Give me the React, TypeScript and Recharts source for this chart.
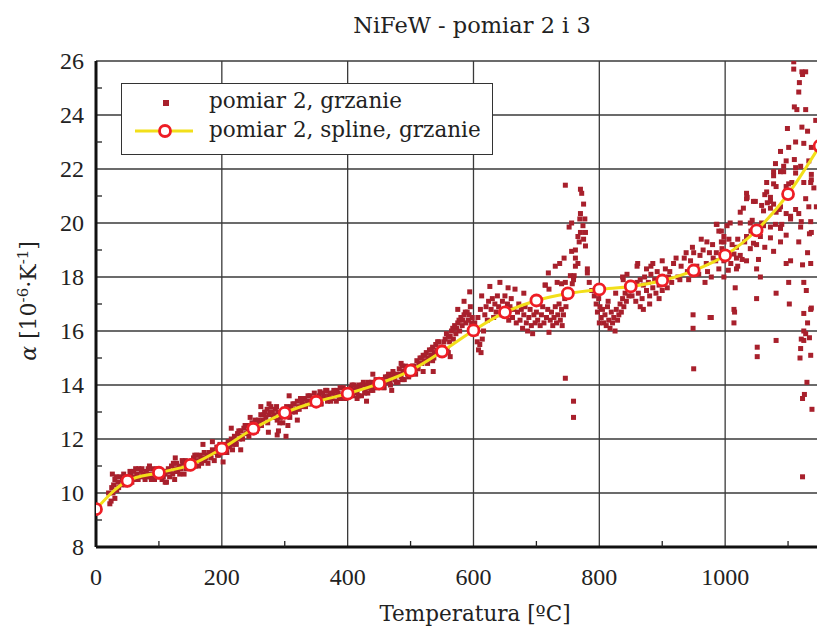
import React from "react";
import {
  ScatterChart,
  Scatter,
  XAxis,
  YAxis,
  CartesianGrid,
} from "recharts";

// pomiar 2, grzanie: [temperatura °C, alfa 1e-6/K]
const pomiar2Grzanie: [number, number][] = [
  [20, 10.0], [22, 9.6], [24, 9.7], [25, 10.2], [26, 10.7], [28, 10.3], [30, 9.8], [30, 10.5], [33, 10.1], [35, 10.4], [38, 10.6], [40, 10.3], [42, 10.5], [45, 10.4], [48, 10.6],
  [27, 10.0], [32, 10.6], [36, 10.2], [44, 10.7], [47, 10.3], [54, 10.8], [57, 10.4], [63, 10.9], [67, 10.5], [73, 10.9], [77, 10.6], [83, 10.9], [87, 10.6], [93, 10.5], [97, 10.9],
  [52, 10.5], [55, 10.7], [58, 10.6], [60, 10.8], [62, 10.5], [65, 10.7], [68, 10.9], [70, 10.6], [72, 10.8], [75, 10.7], [78, 10.5], [80, 10.8], [82, 10.6], [85, 10.7], [88, 10.5], [90, 10.9], [92, 10.7], [95, 10.6], [98, 10.8], [85, 11.0],
  [102, 10.6], [105, 10.5], [108, 10.8], [110, 10.7], [112, 10.4], [115, 10.9], [118, 10.8], [120, 11.0], [122, 10.7], [125, 10.9], [126, 11.3], [128, 11.1], [130, 10.8], [132, 11.0], [135, 10.9], [138, 11.1], [140, 10.7], [142, 11.2], [145, 11.0], [148, 10.9], [110, 10.4], [125, 10.5],
  [104, 10.8], [107, 10.6], [113, 10.8], [117, 10.6], [123, 11.1], [127, 10.8], [133, 10.7], [137, 11.2], [143, 10.9], [147, 11.1], [153, 11.2], [157, 11.4], [163, 11.0], [167, 11.3], [173, 11.2], [177, 11.4], [183, 11.3], [187, 11.5], [193, 11.4], [197, 11.8],
  [152, 11.1], [155, 11.3], [158, 11.0], [160, 11.4], [162, 11.2], [165, 11.4], [168, 11.1], [170, 11.3], [170, 11.8], [172, 11.5], [175, 11.3], [178, 11.1], [180, 11.5], [182, 11.4], [185, 11.6], [188, 11.2], [190, 11.5], [192, 11.7], [195, 11.4], [198, 11.6], [185, 11.9],
  [202, 11.6], [202, 11.15], [205, 11.8], [208, 11.5], [210, 11.9], [212, 11.7], [215, 12.0], [218, 11.8], [220, 12.1], [222, 11.9], [225, 12.2], [228, 12.0], [230, 12.3], [232, 12.1], [235, 12.4], [238, 12.2], [240, 12.5], [242, 12.3], [245, 12.8], [245, 12.4], [248, 12.6], [230, 11.6], [215, 12.4],
  [204, 11.5], [207, 11.7], [213, 11.9], [217, 11.6], [223, 11.8], [227, 12.3], [233, 12.0], [237, 12.5], [243, 12.1], [247, 12.3], [253, 12.7], [257, 12.4], [263, 12.5], [267, 12.9], [273, 12.6], [277, 13.0], [283, 12.9], [287, 13.2], [293, 12.8], [297, 12.6],
  [252, 12.5], [255, 12.3], [258, 12.7], [260, 12.6], [262, 12.9], [265, 12.7], [268, 13.0], [270, 12.8], [272, 13.1], [274, 12.25], [275, 12.9], [278, 13.2], [280, 13.0], [282, 12.8], [285, 13.1], [288, 12.7], [288, 12.15], [290, 13.0], [292, 12.6], [295, 12.9], [298, 13.1], [290, 12.3], [262, 13.2], [275, 13.3],
  [302, 12.9], [302, 12.1], [305, 13.1], [307, 13.6], [308, 12.8], [310, 13.2], [312, 13.0], [315, 13.3], [318, 13.1], [320, 13.4], [322, 13.2], [325, 13.5], [328, 13.3], [330, 13.2], [332, 13.5], [335, 13.4], [338, 13.3], [340, 13.6], [342, 13.4], [345, 13.5], [348, 13.3], [320, 12.7], [305, 12.5],
  [303, 13.2], [307, 12.9], [313, 13.3], [317, 13.0], [323, 13.1], [327, 13.4], [333, 13.2], [337, 13.6], [343, 13.3], [347, 13.7], [353, 13.5], [357, 13.3], [363, 13.6], [367, 13.8], [373, 13.4], [377, 13.7], [383, 13.8], [387, 13.5], [393, 13.9], [397, 13.5],
  [352, 13.4], [355, 13.6], [356, 13.75], [358, 13.3], [360, 13.7], [362, 13.5], [365, 13.8], [368, 13.4], [370, 13.6], [372, 13.7], [375, 13.5], [378, 13.8], [380, 13.6], [382, 13.4], [385, 13.7], [388, 13.9], [390, 13.5], [392, 13.6], [395, 13.8], [398, 13.7],
  [402, 13.7], [405, 13.9], [408, 13.6], [410, 14.0], [412, 13.8], [415, 13.7], [418, 14.0], [420, 13.9], [422, 13.6], [425, 14.1], [428, 13.8], [430, 14.0], [432, 13.7], [435, 13.9], [438, 14.1], [440, 13.8], [442, 14.0], [445, 14.2], [448, 13.9], [430, 13.4], [415, 13.5], [440, 14.4],
  [403, 13.8], [407, 14.0], [413, 13.9], [417, 13.6], [423, 14.0], [427, 13.7], [433, 14.1], [437, 13.8], [443, 13.9], [447, 14.1], [453, 14.2], [457, 13.9], [463, 14.3], [467, 14.1], [473, 14.4], [477, 14.1], [483, 14.4], [487, 14.2], [493, 14.5], [497, 14.3],
  [452, 14.0], [455, 14.2], [458, 13.9], [460, 14.3], [462, 14.1], [465, 14.4], [468, 14.0], [470, 14.3], [472, 14.5], [475, 14.2], [478, 14.4], [480, 14.1], [482, 14.6], [485, 14.3], [487, 14.7], [488, 14.5], [490, 14.2], [492, 14.7], [495, 14.4], [498, 14.6], [470, 13.8], [485, 14.8],
  [502, 14.5], [505, 14.7], [508, 14.4], [510, 14.9], [512, 14.6], [515, 15.0], [518, 14.8], [520, 15.1], [522, 14.9], [525, 15.2], [528, 15.0], [530, 15.3], [532, 15.1], [535, 15.4], [536, 14.5], [538, 15.2], [540, 15.5], [542, 15.3], [545, 15.6], [548, 15.4], [520, 14.5], [535, 14.9],
  [503, 14.7], [507, 14.5], [513, 14.8], [517, 15.0], [523, 15.1], [527, 14.8], [533, 15.3], [537, 15.0], [543, 15.6], [547, 15.2], [553, 15.6], [557, 15.9], [563, 15.8], [567, 16.1], [573, 16.1], [577, 16.4], [583, 16.4], [587, 16.7], [593, 16.6], [597, 16.3],
  [552, 15.4], [555, 15.7], [558, 15.3], [560, 15.8], [562, 15.6], [563, 15.05], [565, 16.0], [568, 15.7], [570, 16.2], [572, 15.9], [575, 16.3], [578, 16.0], [580, 16.5], [582, 16.2], [585, 16.6], [588, 16.3], [590, 16.7], [592, 16.4], [595, 16.9], [598, 16.5], [585, 17.1], [575, 16.8], [560, 15.2], [596, 16.1], [599, 15.9], [594, 17.45],
  [602, 16.3], [604, 15.9], [606, 15.6], [608, 15.3], [610, 15.5], [612, 15.2], [614, 15.7], [616, 16.0], [607, 16.5], [611, 16.8], [613, 17.3], [618, 16.6], [620, 16.9], [622, 16.4], [624, 17.1], [626, 17.65], [628, 16.8], [630, 17.2], [632, 16.5], [634, 17.0], [636, 16.7], [638, 17.3], [640, 16.9], [642, 17.8], [644, 16.6], [646, 17.1], [648, 16.8],
  [650, 17.3], [652, 16.6], [654, 17.0], [655, 17.6], [656, 16.4], [658, 16.9], [660, 17.2], [662, 16.5], [664, 16.8], [666, 17.55], [668, 16.3], [670, 16.7], [672, 17.0], [674, 16.4], [676, 16.8], [678, 16.1], [680, 16.6], [680, 17.4], [682, 16.9], [684, 16.3], [686, 16.0], [688, 16.5], [690, 16.8], [692, 16.2], [694, 15.9], [696, 16.6], [698, 16.3],
  [700, 16.7], [702, 16.4], [704, 17.0], [706, 16.2], [708, 16.6], [710, 16.9], [712, 16.3], [714, 17.7], [716, 16.5], [718, 16.8], [720, 15.95], [722, 16.4], [724, 16.7], [726, 16.2], [728, 16.5], [730, 16.9], [732, 16.3], [734, 16.6], [736, 17.0], [738, 16.4], [740, 16.8], [741, 16.2], [743, 16.6], [745, 17.2], [747, 16.9], [749, 17.3], [751, 17.5],
  [746, 21.4], [770, 21.25], [772, 21.1], [775, 20.7], [770, 20.35], [769, 20.15], [777, 20.15], [756, 20.0], [752, 19.85], [774, 19.9], [770, 19.65], [778, 19.65], [766, 19.5], [775, 19.4], [768, 19.3], [778, 19.15], [762, 19.0], [756, 18.95], [762, 18.7], [744, 18.7], [766, 18.5], [730, 18.4], [737, 18.5], [762, 18.4], [781, 18.3], [781, 18.15], [719, 18.15], [754, 18.05], [760, 18.05], [740, 17.75], [733, 17.8], [746, 17.8], [757, 17.75], [714, 17.7], [720, 17.55], [759, 17.9],
  [746, 14.25], [759, 13.4], [759, 12.8],
  [784, 17.8], [788, 17.5], [792, 17.3], [795, 17.0], [797, 16.7], [799, 17.2], [801, 16.9], [803, 16.5], [805, 16.8], [807, 16.3], [809, 16.6], [811, 16.2], [813, 16.9], [815, 16.4], [817, 16.1], [819, 16.7], [821, 16.3], [823, 16.5], [825, 16.0], [827, 16.8], [829, 16.4], [831, 16.6], [833, 17.0], [835, 16.7], [837, 17.2], [839, 16.9], [841, 17.4], [843, 17.1], [845, 17.6], [847, 17.3], [849, 17.8], [838, 17.9], [837, 18.0], [844, 18.1], [826, 17.4], [814, 17.1], [800, 16.3],
  [852, 17.3], [855, 17.6], [858, 17.1], [860, 17.8], [861, 18.5], [862, 17.4], [865, 17.9], [868, 17.2], [870, 17.7], [872, 18.0], [875, 17.5], [878, 17.8], [880, 17.3], [882, 18.1], [882, 18.4], [885, 17.6], [888, 17.9], [890, 17.4], [892, 18.2], [895, 17.7], [898, 18.0], [900, 17.5], [902, 17.9], [905, 18.3], [908, 17.6], [910, 18.0], [865, 16.9], [880, 17.0], [895, 17.2], [875, 18.3], [860, 18.4], [870, 16.8], [885, 18.5], [900, 18.6],
  [912, 18.2], [918, 18.5], [925, 18.0], [930, 18.4], [935, 18.7], [940, 18.2], [945, 18.6], [950, 18.9], [955, 18.4], [960, 18.8], [965, 19.0], [970, 18.5], [975, 18.9], [980, 19.2], [985, 18.6], [915, 17.8], [928, 17.9], [942, 17.9], [958, 18.1], [972, 18.2], [948, 19.1], [962, 19.4], [938, 18.9], [922, 18.7], [968, 17.8], [978, 18.0],
  [986, 19.95], [990, 19.7], [998, 19.5], [1006, 19.4], [994, 19.3], [1011, 19.2], [995, 19.05], [1003, 18.9], [1014, 18.85], [986, 18.9], [981, 18.7], [1018, 18.7], [998, 18.6], [1009, 18.5], [1024, 18.8], [990, 18.3], [1005, 18.25], [1018, 18.3], [998, 18.0],
  [1008, 20.0], [987, 19.95], [1003, 19.9], [994, 19.7], [971, 19.3], [998, 19.3], [1020, 19.4], [1034, 19.5], [1018, 19.1], [1040, 19.05], [1050, 19.2], [1063, 19.1], [1088, 19.3], [1077, 18.95],
  [1034, 18.6], [1050, 18.3], [1020, 18.4], [1027, 18.65], [1053, 18.65], [1056, 18.0],
  [1024, 20.4], [1024, 20.0], [1029, 20.55], [1031, 19.3], [1034, 21.1], [1034, 20.9], [1035, 20.95], [1040, 20.0], [1041, 19.7], [1043, 20.1], [1045, 20.8], [1045, 19.25], [1048, 20.8], [1056, 19.5], [1058, 20.65], [1058, 20.0], [1061, 20.45], [1061, 19.9], [1063, 21.05],
  [1066, 21.5], [1066, 21.15], [1067, 20.75], [1072, 20.95], [1072, 20.8], [1072, 20.55], [1072, 19.85], [1072, 19.45], [1077, 21.9], [1077, 21.75], [1077, 21.45], [1077, 20.7], [1080, 22.2], [1080, 19.95], [1081, 21.35], [1081, 20.4], [1086, 20.5], [1088, 22.65], [1088, 21.9], [1088, 20.6], [1088, 19.85], [1088, 19.8], [1090, 19.95],
  [1093, 22.1], [1093, 21.9], [1097, 22.3], [1097, 21.35], [1097, 21.0], [1097, 20.35], [1097, 19.55], [1097, 18.5], [1099, 23.5], [1101, 22.8], [1101, 21.45], [1101, 17.8], [1104, 20.25], [1104, 20.15], [1104, 18.6], [1106, 21.5],
  [1109, 25.97], [1109, 25.7], [1110, 24.3], [1110, 22.35], [1112, 23.0], [1112, 22.05], [1112, 21.85], [1112, 20.5], [1114, 24.2], [1117, 24.85], [1117, 20.35], [1117, 19.3], [1118, 25.2], [1120, 22.1], [1120, 19.85], [1121, 20.05], [1122, 25.6], [1122, 23.55], [1123, 25.5], [1123, 18.45], [1125, 22.95], [1125, 21.5], [1125, 17.8],
  [1128, 25.6], [1128, 24.2], [1128, 20.9], [1131, 23.4], [1131, 18.9], [1133, 22.3], [1133, 20.6], [1134, 19.6], [1136, 21.5], [1136, 20.05], [1136, 18.5], [1137, 22.8], [1137, 21.8], [1137, 21.6], [1137, 19.65], [1141, 21.3], [1144, 23.8], [1145, 20.6],
  [949, 16.6], [949, 16.1], [950, 14.6], [976, 16.5], [978, 16.5], [1014, 16.3], [1014, 16.8], [1015, 16.7], [1016, 17.6], [1050, 17.2], [1051, 15.4], [1051, 15.05], [1081, 15.65], [1081, 17.4], [1102, 17.0], [1120, 15.35], [1119, 15.0], [1125, 16.0], [1128, 15.9], [1131, 16.3], [1134, 15.75], [1121, 15.7], [1125, 15.65], [1129, 17.5], [1136, 16.8], [1137, 16.85], [1125, 16.65], [1136, 15.1], [1130, 14.1], [1126, 13.65], [1123, 13.5], [1138, 13.1], [1123, 10.6],
];

// pomiar 2, spline, grzanie
const splineTemps = [0, 50, 100, 150, 200, 250, 300, 350, 400, 450, 500, 550, 600, 650, 700, 750, 800, 850, 900, 950, 1000, 1050, 1100, 1150];
const splineAlpha = [9.4, 10.45, 10.75, 11.04, 11.64, 12.38, 12.97, 13.38, 13.68, 14.05, 14.53, 15.24, 16.02, 16.69, 17.13, 17.39, 17.54, 17.65, 17.87, 18.24, 18.8, 19.73, 21.07, 22.85];

const xTicks = [0, 100, 200, 300, 400, 500, 600, 700, 800, 900, 1000, 1100];
const xGrid = [200, 400, 600, 800, 1000];
const yTicks = [8, 9, 10, 11, 12, 13, 14, 15, 16, 17, 18, 19, 20, 21, 22, 23, 24, 25, 26];
const yGrid = [10, 12, 14, 16, 18, 20, 22, 24, 26];

const pointsData = pomiar2Grzanie.map(([T, a]) => ({ T, a }));
const splineData = splineTemps.map((T, i) => ({ T, a: splineAlpha[i] }));

const TEXT_FONT = "'DejaVu Serif', serif";
const NUM_FONT = "'Liberation Serif', serif";
const DOT = "#a8202c";
const YELLOW = "#f2df1a";
const RED = "#ee1d25";

const XTick = (props: any) => {
  const { x, y, payload } = props;
  const major = payload.value % 200 === 0;
  return (
    <g>
      {!major && <line x1={x} y1={y} x2={x} y2={y - 6} stroke="#222" strokeWidth={1.3} />}
      {major && (
        <text x={x} y={y + 38} textAnchor="middle" fontFamily={NUM_FONT} fontSize={24} fill="#222">
          {payload.value}
        </text>
      )}
    </g>
  );
};

const YTick = (props: any) => {
  const { x, y, payload } = props;
  const major = payload.value % 2 === 0;
  return (
    <g>
      {!major && <line x1={x} y1={y} x2={x + 6} y2={y} stroke="#222" strokeWidth={1.3} />}
      {major && (
        <text x={x - 12} y={y + 8} textAnchor="end" fontFamily={NUM_FONT} fontSize={24} fill="#222">
          {payload.value}
        </text>
      )}
    </g>
  );
};

const Square = (props: any) => {
  const { cx, cy } = props;
  return <rect x={cx - 2.5} y={cy - 2.5} width={5} height={5} fill={DOT} />;
};

const Ring = (props: any) => {
  const { cx, cy } = props;
  return <circle cx={cx} cy={cy} r={5.5} fill="#fff" stroke={RED} strokeWidth={2.8} />;
};

function LegendBox() {
  return (
    <div
      style={{
        position: "absolute",
        left: 121,
        top: 83,
        width: 370,
        height: 70,
        border: "1.5px solid #333",
        background: "#fff",
        fontFamily: TEXT_FONT,
        fontSize: 21.5,
        color: "#222",
      }}
    >
      <svg width={88} height={70} style={{ position: "absolute", left: 0, top: 0 }}>
        <rect x={41} y={16} width={6} height={6} fill={DOT} />
        <line x1={13} y1={47} x2={71} y2={47} stroke={YELLOW} strokeWidth={3} />
        <circle cx={43} cy={47} r={5.5} fill="#fff" stroke={RED} strokeWidth={2.8} />
      </svg>
      <div style={{ position: "absolute", left: 87, top: 4, whiteSpace: "nowrap" }}>pomiar 2, grzanie</div>
      <div style={{ position: "absolute", left: 87, top: 33, whiteSpace: "nowrap" }}>pomiar 2, spline, grzanie</div>
    </div>
  );
}

export default function App() {
  return (
    <div style={{ position: "absolute", left: 0, top: 0, width: 817, height: 632, background: "#fff" }}>
      <ScatterChart width={817} height={632} margin={{ top: 61, right: 0, bottom: 0, left: 0 }}>
        <CartesianGrid
          horizontalValues={yGrid}
          verticalValues={xGrid}
          stroke="#3a3a3a"
          strokeWidth={1.3}
        />
        <XAxis
          type="number"
          dataKey="T"
          domain={[0, 1146]}
          allowDataOverflow
          ticks={xTicks}
          interval={0}
          height={85}
          tickSize={0}
          tickMargin={0}
          tick={<XTick />}
          axisLine={{ stroke: "#111", strokeWidth: 3 }}
        />
        <YAxis
          type="number"
          dataKey="a"
          domain={[8, 26]}
          allowDataOverflow
          ticks={yTicks}
          interval={0}
          width={96}
          tickSize={0}
          tickMargin={0}
          tick={<YTick />}
          axisLine={{ stroke: "#111", strokeWidth: 3 }}
        />
        <Scatter
          name="pomiar 2, grzanie"
          data={pointsData}
          shape={<Square />}
          isAnimationActive={false}
        />
        <Scatter
          name="pomiar 2, spline, grzanie"
          data={splineData}
          line={{ stroke: YELLOW, strokeWidth: 3 }}
          lineJointType="monotoneX"
          shape={<Ring />}
          isAnimationActive={false}
        />
        <text x={472} y={33} textAnchor="middle" fontFamily={TEXT_FONT} fontSize={22.5} fill="#222">
          NiFeW - pomiar 2 i 3
        </text>
        <text x={475} y={621} textAnchor="middle" fontFamily={TEXT_FONT} fontSize={21.5} fill="#222">
          Temperatura [ºC]
        </text>
        <text
          x={36}
          y={301}
          textAnchor="middle"
          transform="rotate(-90 36 301)"
          fontFamily={TEXT_FONT}
          fontSize={22}
          fill="#222"
        >
          <tspan fontStyle="italic">α</tspan>
          <tspan> [10</tspan>
          <tspan dy={-8} fontSize={15}>-6</tspan>
          <tspan dy={8}>·K</tspan>
          <tspan dy={-8} fontSize={15}>-1</tspan>
          <tspan dy={8}>]</tspan>
        </text>
      </ScatterChart>
      <LegendBox />
    </div>
  );
}
